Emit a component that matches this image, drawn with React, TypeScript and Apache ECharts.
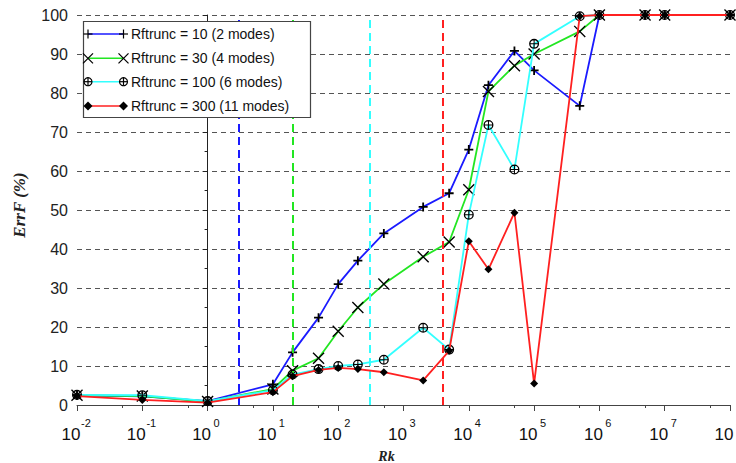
import React, { useEffect, useRef } from "react";
import * as echarts from "echarts";

// ---- data ----
const rkValues = [0.01, 0.1, 1, 10, 20, 50, 100, 200, 500, 2000, 5000, 1e4, 2e4, 5e4, 1e5, 5e5, 1e6, 5e6, 1e7, 1e8];
const errRf10 = [2.5, 2.2, 1.0, 5.3, 13.5, 22.4, 31, 37, 44, 50.8, 54.3, 65.5, 82, 90.8, 85.8, 76.7, 100, 100, 100, 100];
const errRf30 = [2.5, 2.3, 0.9, 4.1, 8.8, 12, 18.9, 25, 31, 38, 41.8, 55.2, 80.4, 87, 90, 95.8, 100, 100, 100, 100];
const errRf100 = [2.6, 2.5, 1.0, 3.8, 7.8, 9.2, 10, 10.4, 11.6, 19.8, 14.2, 48.8, 71.8, 60.4, 92.6, 99.7, 100, 100, 100, 100];
const errRf300 = [2.3, 1.3, 0.6, 3.3, 7.4, 9, 9.5, 9.2, 8.4, 6.3, 13.9, 42, 34.8, 49.3, 5.5, 99.7, 100, 100, 100, 100];
const seriesNames = [
  "Rftrunc = 10 (2 modes)",
  "Rftrunc = 30 (4 modes)",
  "Rftrunc = 100 (6 modes)",
  "Rftrunc = 300 (11 modes)",
];
const rkCutoffs = [3, 20, 300, 4000];
const minorTickExponents = [-2, -1, 0, 1, 2, 3, 4, 5, 6, 7];

const seriesColors = ["#1a1aff", "#22e622", "#33ffff", "#ff2020"];

const plusPath = "path://M4,0H6V4H10V6H6V10H4V6H0V4H4Z";
const xPath = "path://M0,0.8L0.8,0L10,9.2L9.2,10Z M9.2,0L10,0.8L0.8,10L0,9.2Z";
const ringPlusPath =
  "path://M0,10A10,10,0,1,1,20,10A10,10,0,1,1,0,10Z M2.6,10A7.4,7.4,0,1,0,17.4,10A7.4,7.4,0,1,0,2.6,10Z M9,1H11V19H9Z M1,9H19V11H1Z";
const symbols = [plusPath, xPath, ringPlusPath, "diamond"];
const symbolSizes = [9, 12, 10, 8];

function legendGraphic() {
  const els: any[] = [];
  els.push({
    type: "rect",
    shape: { x: 83.5, y: 21.5, width: 227, height: 96 },
    style: { fill: "#fff", stroke: "#444", lineWidth: 1.2 },
    z: 100,
  });
  const rows = [34, 58.3, 81.7, 106];
  const blk = { stroke: "#000", lineWidth: 1.2 };
  rows.forEach((cy, i) => {
    els.push({
      type: "line",
      shape: { x1: 88, y1: cy, x2: 123.5, y2: cy },
      style: { stroke: seriesColors[i], lineWidth: 1.6 },
      z: 101,
    });
    [88, 123.5].forEach((cx) => {
      if (i === 0) {
        els.push({ type: "line", shape: { x1: cx - 4.5, y1: cy, x2: cx + 4.5, y2: cy }, style: blk, z: 102 });
        els.push({ type: "line", shape: { x1: cx, y1: cy - 4.5, x2: cx, y2: cy + 4.5 }, style: blk, z: 102 });
      } else if (i === 1) {
        els.push({ type: "line", shape: { x1: cx - 5, y1: cy - 5, x2: cx + 5, y2: cy + 5 }, style: blk, z: 102 });
        els.push({ type: "line", shape: { x1: cx - 5, y1: cy + 5, x2: cx + 5, y2: cy - 5 }, style: blk, z: 102 });
      } else if (i === 2) {
        els.push({ type: "circle", shape: { cx, cy, r: 4 }, style: { fill: "#fff", stroke: "#000", lineWidth: 1.2 }, z: 102 });
        els.push({ type: "line", shape: { x1: cx - 4, y1: cy, x2: cx + 4, y2: cy }, style: blk, z: 103 });
        els.push({ type: "line", shape: { x1: cx, y1: cy - 4, x2: cx, y2: cy + 4 }, style: blk, z: 103 });
      } else {
        els.push({
          type: "polygon",
          shape: { points: [[cx, cy - 4.5], [cx + 4.5, cy], [cx, cy + 4.5], [cx - 4.5, cy]] },
          style: { fill: "#000" },
          z: 102,
        });
      }
    });
    els.push({
      type: "text",
      x: 131,
      y: cy,
      style: {
        text: seriesNames[i],
        fontSize: 14,
        fontFamily: "'Liberation Sans', Arial, sans-serif",
        fill: "#111",
        verticalAlign: "middle",
        align: "left",
      },
      z: 102,
    });
  });
  return els;
}

export default function App() {
  const ref = useRef<HTMLDivElement>(null);
  useEffect(() => {
    if (!ref.current) return;
    const chart = echarts.init(ref.current, undefined, { renderer: "svg" });
    const dataSets = [errRf10, errRf30, errRf100, errRf300];
    const series: any[] = [
      {
        type: "line",
        name: "cutoffs",
        data: [],
        xAxisIndex: 0,
        z: 1,
        silent: true,
        markLine: {
          silent: true,
          symbol: ["none", "none"],
          label: { show: false },
          data: rkCutoffs.map((v, i) => ({
            xAxis: v,
            lineStyle: { color: seriesColors[i], type: [8, 5], width: 2 },
          })),
        },
      },
    ];
    dataSets.forEach((d, i) => {
      series.push({
        type: "line",
        name: seriesNames[i],
        xAxisIndex: 0,
        data: rkValues.map((x, k) => [x, d[k]]),
        symbol: symbols[i],
        symbolSize: symbolSizes[i],
        showAllSymbol: true,
        lineStyle: { color: seriesColors[i], width: 1.8 },
        itemStyle: { color: "#000" },
        z: 2 + i,
      });
    });
    chart.setOption({
      animation: false,
      backgroundColor: "#fff",
      textStyle: { fontFamily: "'Liberation Sans', Arial, sans-serif" },
      grid: { left: 77, right: 6, top: 15, bottom: 58, containLabel: false, outerBoundsMode: "none" },
      xAxis: [
        {
          type: "log",
          logBase: 10,
          min: 0.01,
          max: 1e8,
          interval: 1,
          splitNumber: 10,
          name: "Rk",
          nameLocation: "middle",
          nameGap: 44,
          nameTextStyle: {
            fontFamily: "'Liberation Serif', 'Times New Roman', serif",
            fontStyle: "italic",
            fontWeight: "bold",
            fontSize: 14,
            color: "#222",
            padding: [0, 34, 0, 0],
          },
          axisLine: { show: true, lineStyle: { color: "#444", width: 1 } },
          axisTick: { show: true, inside: false, length: 6, lineStyle: { color: "#444" } },
          splitLine: { show: false },
          axisLabel: {
            margin: 21,
            fontSize: 17,
            lineHeight: 17,
            color: "#111",
            padding: [0, 12, 0, 0],
            formatter: () => "10",
          },
        },
        {
          type: "value",
          min: -2,
          max: 8,
          interval: 1,
          position: "bottom",
          show: true,
          axisLine: { show: false },
          splitLine: { show: false },
          axisLabel: {
            show: true,
            margin: 12,
            fontSize: 11,
            lineHeight: 11,
            color: "#111",
            padding: [0, 0, 0, 18],
            formatter: (v: number) => String(Math.round(v)),
          },
          axisTick: {
            show: true,
            length: 3,
            customValues: minorTickExponents.map((e) => e + Math.log10(5)),
            lineStyle: { color: "#444" },
          },
        },
      ],
      yAxis: {
        type: "value",
        min: 0,
        max: 100,
        interval: 10,
        name: "ErrF (%)",
        nameLocation: "middle",
        nameGap: 49,
        nameRotate: 90,
        nameTextStyle: {
          fontFamily: "'Liberation Serif', 'Times New Roman', serif",
          fontStyle: "italic",
          fontWeight: "bold",
          fontSize: 17,
          color: "#222",
          padding: [0, 0, 0, 10],
        },
        axisLine: { show: true, lineStyle: { color: "#222", width: 1 } },
        axisTick: { show: true, length: 5, lineStyle: { color: "#222" } },
        minorTick: { show: true, splitNumber: 2, length: 3, lineStyle: { color: "#222" } },
        splitLine: { show: true, lineStyle: { color: "#555", type: [5, 4], width: 1 } },
        axisLabel: { fontSize: 16, color: "#222", margin: 9 },
      },
      graphic: legendGraphic(),
      series,
    });
    return () => chart.dispose();
  }, []);
  return (
    <div style={{ position: "absolute", left: 0, top: 0, width: 736, height: 463, overflow: "hidden" }}>
      <div ref={ref} style={{ width: 736, height: 463 }} />
    </div>
  );
}
